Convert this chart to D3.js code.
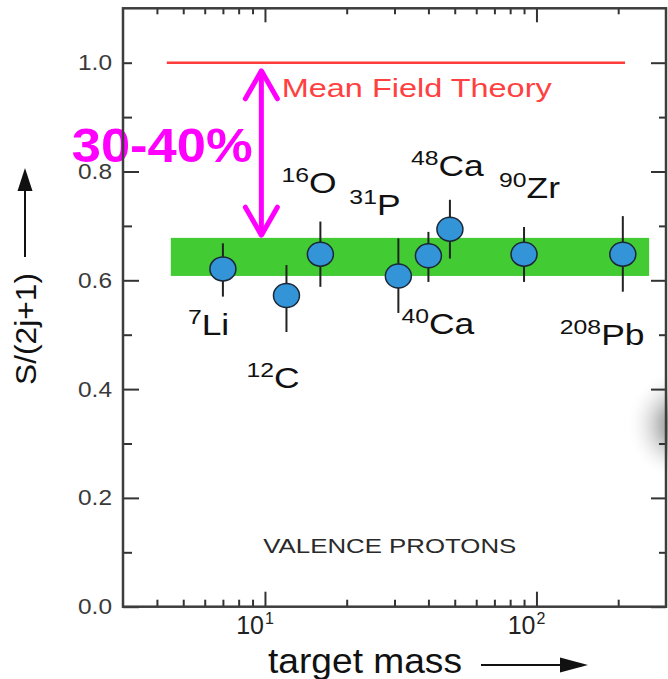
<!DOCTYPE html>
<html><head><meta charset="utf-8">
<script src="https://cdn.jsdelivr.net/npm/d3@7"></script>
<style>body{margin:0;background:#fff}svg{display:block}</style>
</head><body><svg id="chart" width="668" height="679"></svg>
<script>
// ---- data ----
const masses = [7, 12, 16, 31, 40, 48, 90, 208];
const isotopeMass = ["7", "12", "16", "31", "40", "48", "90", "208"];
const elements = ["Li", "C", "O", "P", "Ca", "Ca", "Zr", "Pb"];
const values = [0.621, 0.572, 0.648, 0.608, 0.645, 0.694, 0.648, 0.648];
const errUp = [0.047, 0.056, 0.060, 0.069, 0.044, 0.054, 0.050, 0.070];
const errDown = [0.051, 0.067, 0.060, 0.068, 0.048, 0.054, 0.051, 0.069];
const bandMass = [4.5, 260];
const bandValues = [0.608, 0.678];
const theoryMass = [4.35, 212];
const theoryValue = 1.0;
const yMajorTicks = [0, 0.2, 0.4, 0.6, 0.8, 1.0];
const yMinorTicks = [0.1, 0.3, 0.5, 0.7, 0.9];
const xMajorTicks = [10, 100];
const xTickBase = ["10", "10"];
const xTickExp = ["1", "2"];
const xMinorTicks = [4, 5, 6, 7, 8, 9, 20, 30, 40, 50, 60, 70, 80, 90, 200];
const quenchMass = 9.7;
const quenchFrom = 0.985;
const quenchTo = 0.683;
const quenchLabel = "30-40%";
const theoryLabel = "Mean Field Theory";
const panelLabel = "VALENCE PROTONS";
const yTitle = "S/(2j+1)";
const xTitle = "target mass";

// ---- layout (pixel offsets of isotope labels relative to their point) ----
const labelOffsets = [[-35, 66], [-40, 92], [-39, -61], [-49, -61], [-27, 78], [-39, -53], [-25, -56], [-63, 91]];

const svg = d3.select("#chart");
const font = "'Liberation Sans', Arial, Helvetica, sans-serif";
const L = 123, R = 666, B = 606.7, T = 8.3;
const x = d3.scaleLog().domain([3, 300]).range([L, R]);
const y = d3.scaleLinear().domain([0, 1.1]).range([B, T]);

// grey blob artefact at right
const defs = svg.append("defs");
const rg = defs.append("radialGradient").attr("id", "blob");
rg.append("stop").attr("offset", "0%").attr("stop-color", "#666").attr("stop-opacity", 1);
rg.append("stop").attr("offset", "40%").attr("stop-color", "#999").attr("stop-opacity", 0.7);
rg.append("stop").attr("offset", "100%").attr("stop-color", "#fff").attr("stop-opacity", 0);
svg.append("circle").attr("cx", 684).attr("cy", 425).attr("r", 58).attr("fill", "url(#blob)");

// green band
svg.append("rect")
  .attr("x", x(bandMass[0])).attr("width", x(bandMass[1]) - x(bandMass[0]))
  .attr("y", y(bandValues[1])).attr("height", y(bandValues[0]) - y(bandValues[1]))
  .attr("fill", "#42cb33");

// mean field line
svg.append("line")
  .attr("x1", x(theoryMass[0])).attr("x2", x(theoryMass[1]))
  .attr("y1", y(theoryValue)).attr("y2", y(theoryValue))
  .attr("stroke", "#ff3b3b").attr("stroke-width", 2.5);
svg.append("text").attr("x", 281.7).attr("y", 96.7)
  .attr("font-family", font).attr("font-size", 26).attr("fill", "#ff4040")
  .attr("textLength", 270).attr("lengthAdjust", "spacingAndGlyphs")
  .text(theoryLabel);

// error bars
svg.append("g").selectAll("line").data(masses).join("line")
  .attr("x1", d => x(d)).attr("x2", d => x(d))
  .attr("y1", (d, i) => y(values[i] + errUp[i]))
  .attr("y2", (d, i) => y(values[i] - errDown[i]))
  .attr("stroke", "#222").attr("stroke-width", 2);

// points
svg.append("g").selectAll("ellipse").data(masses).join("ellipse")
  .attr("cx", d => x(d)).attr("cy", (d, i) => y(values[i]))
  .attr("rx", 13).attr("ry", 12)
  .attr("fill", "#3494d8").attr("stroke", "#1b2836").attr("stroke-width", 1.5);

// isotope labels
const lab = svg.append("g").selectAll("g").data(masses).join("g")
  .attr("transform", (d, i) => `translate(${x(d) + labelOffsets[i][0]},${y(values[i]) + labelOffsets[i][1]}) scale(1.18,1)`);
const lt = lab.append("text").attr("font-family", font).attr("fill", "#111");
lt.append("tspan").attr("font-size", 21).attr("dy", -11).text((d, i) => isotopeMass[i]);
lt.append("tspan").attr("font-size", 30).attr("dy", 11).text((d, i) => elements[i]);

// panel label
svg.append("text").attr("x", 263.3).attr("y", 553)
  .attr("font-family", font).attr("font-size", 21).attr("fill", "#2a2a2a")
  .attr("textLength", 253).attr("lengthAdjust", "spacingAndGlyphs")
  .text(panelLabel);

// magenta annotation
svg.append("text").attr("x", 71.7).attr("y", 161.5)
  .attr("font-family", font).attr("font-weight", "bold").attr("font-size", 49)
  .attr("fill", "#ff00ff").attr("textLength", 181).attr("lengthAdjust", "spacingAndGlyphs")
  .text(quenchLabel);
const ax = x(quenchMass), ay1 = y(quenchFrom), ay2 = y(quenchTo);
const mg = svg.append("g").attr("stroke", "#ff00ff").attr("stroke-width", 5)
  .attr("stroke-linecap", "round").attr("stroke-linejoin", "round").attr("fill", "none");
mg.append("line").attr("x1", ax).attr("x2", ax).attr("y1", ay1 + 2).attr("y2", ay2 - 2);
mg.append("path").attr("d", `M${ax - 16},${ay1 + 28}L${ax},${ay1}L${ax + 16},${ay1 + 28}`);
mg.append("path").attr("d", `M${ax - 16},${ay2 - 28}L${ax},${ay2}L${ax + 16},${ay2 - 28}`);

// axes
function styleAxis(g) {
  g.select(".domain").remove();
  g.selectAll(".tick line").attr("stroke", "#333").attr("stroke-width", 2);
}
svg.append("g").attr("transform", `translate(0,${B})`)
  .call(d3.axisBottom(x).tickValues(xMajorTicks).tickSize(-15).tickFormat("")).call(styleAxis);
svg.append("g").attr("transform", `translate(0,${B})`)
  .call(d3.axisBottom(x).tickValues(xMinorTicks).tickSize(-7).tickFormat("")).call(styleAxis);
svg.append("g").attr("transform", `translate(0,${T})`)
  .call(d3.axisTop(x).tickValues(xMajorTicks).tickSize(-14).tickFormat("")).call(styleAxis);
svg.append("g").attr("transform", `translate(0,${T})`)
  .call(d3.axisTop(x).tickValues(xMinorTicks).tickSize(-6).tickFormat("")).call(styleAxis);

const yl = svg.append("g").attr("transform", `translate(${L},0)`)
  .call(d3.axisLeft(y).tickValues(yMajorTicks).tickSize(-16).tickPadding(11).tickFormat(d3.format(".1f")))
  .call(styleAxis);
yl.selectAll(".tick line").filter(d => d === 1).attr("x2", 9);
yl.selectAll(".tick text").attr("font-family", font).attr("font-size", 22).attr("fill", "#3a3a3a")
  .attr("textLength", 34).attr("lengthAdjust", "spacingAndGlyphs");
svg.append("g").attr("transform", `translate(${L},0)`)
  .call(d3.axisLeft(y).tickValues(yMinorTicks).tickSize(-9).tickFormat("")).call(styleAxis);
svg.append("g").attr("transform", `translate(${R},0)`)
  .call(d3.axisRight(y).tickValues(yMajorTicks).tickSize(-15).tickFormat("")).call(styleAxis);
svg.append("g").attr("transform", `translate(${R},0)`)
  .call(d3.axisRight(y).tickValues(yMinorTicks).tickSize(-7).tickFormat("")).call(styleAxis);

// frame
svg.append("rect").attr("x", L).attr("y", T).attr("width", R - L).attr("height", B - T)
  .attr("fill", "none").attr("stroke", "#3d3d3d").attr("stroke-width", 2.5);

// x tick labels with exponents
const xl = svg.append("g").selectAll("g").data(xMajorTicks).join("g");
xl.append("text").attr("x", d => x(d) - 1).attr("y", 634).attr("text-anchor", "end")
  .attr("font-family", font).attr("font-size", 25).attr("fill", "#222").text((d, i) => xTickBase[i]);
xl.append("text").attr("x", d => x(d)).attr("y", 624)
  .attr("font-family", font).attr("font-size", 16).attr("fill", "#222").text((d, i) => xTickExp[i]);

// axis titles
svg.append("text").attr("transform", "translate(36,329) rotate(-90)").attr("text-anchor", "middle")
  .attr("font-family", font).attr("font-size", 30).attr("fill", "#111")
  .attr("textLength", 112).attr("lengthAdjust", "spacingAndGlyphs").text(yTitle);
svg.append("line").attr("x1", 25).attr("x2", 25).attr("y1", 257).attr("y2", 188)
  .attr("stroke", "#111").attr("stroke-width", 2);
svg.append("path").attr("d", "M25,168L17.5,191L32.5,191Z").attr("fill", "#111");

svg.append("text").attr("x", 268).attr("y", 673)
  .attr("font-family", font).attr("font-size", 35).attr("fill", "#111")
  .attr("textLength", 194).attr("lengthAdjust", "spacingAndGlyphs").text(xTitle);
svg.append("line").attr("x1", 481).attr("x2", 565).attr("y1", 665).attr("y2", 665)
  .attr("stroke", "#111").attr("stroke-width", 2);
svg.append("path").attr("d", "M588,665L560,657.5L560,672.5Z").attr("fill", "#111");
</script></body></html>
